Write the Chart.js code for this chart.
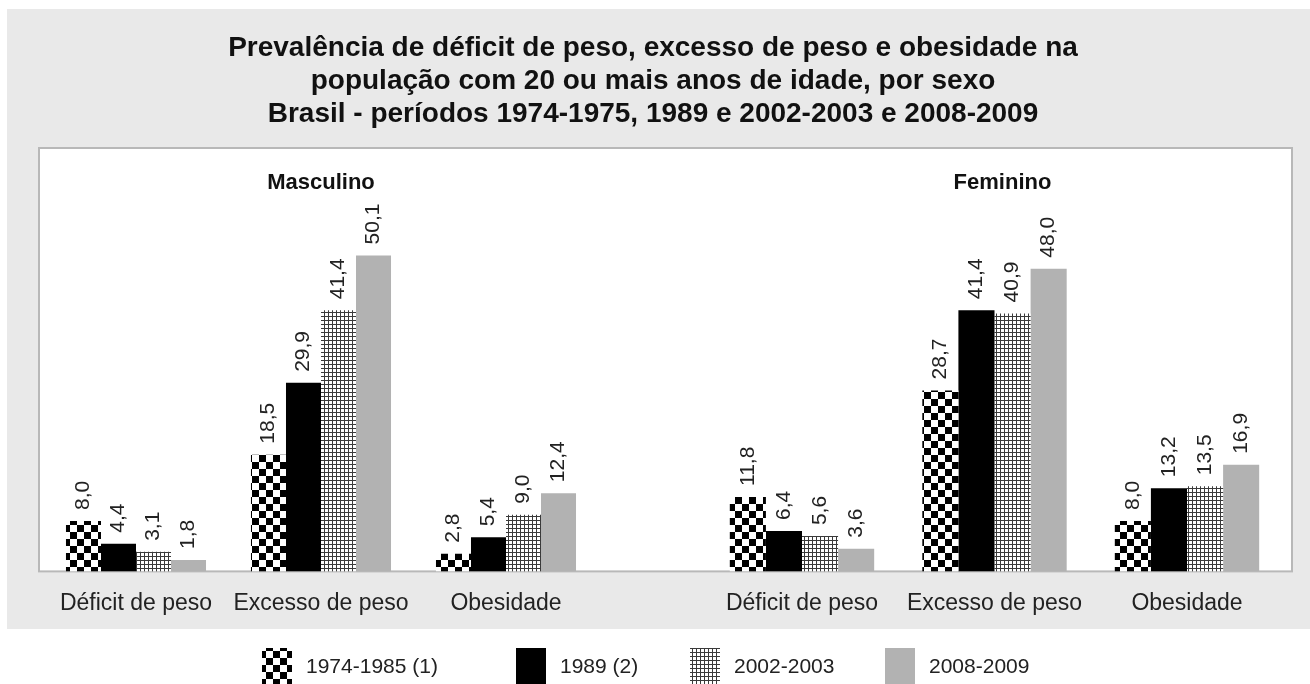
<!DOCTYPE html>
<html>
<head>
<meta charset="utf-8">
<script src="https://cdn.jsdelivr.net/npm/chart.js@4.4.1/dist/chart.umd.min.js"></script>
<style>
  html, body { margin: 0; padding: 0; background: #ffffff; }
  #wrap { position: relative; width: 1310px; height: 684px; }
  #wrap canvas { position: absolute; left: 0; top: 0; display: block; }
</style>
</head>
<body>
<div id="wrap">
  <canvas id="cM" width="1310" height="684"></canvas>
  <canvas id="cF" width="1310" height="684"></canvas>
</div>
<script>
// ---------- DATA ----------
const categories = ['Déficit de peso', 'Excesso de peso', 'Obesidade'];
const groupTitles = ['Masculino', 'Feminino'];
const seriesLabels = ['1974-1985 (1)', '1989 (2)', '2002-2003', '2008-2009'];
const titleLines = [
  'Prevalência de déficit de peso, excesso de peso e obesidade na',
  'população com 20 ou mais anos de idade, por sexo',
  'Brasil - períodos 1974-1975, 1989 e 2002-2003 e 2008-2009'
];
const masc1974 = [8.0, 18.5, 2.8];
const masc1989 = [4.4, 29.9, 5.4];
const masc2002 = [3.1, 41.4, 9.0];
const masc2008 = [1.8, 50.1, 12.4];
const fem1974 = [11.8, 28.7, 8.0];
const fem1989 = [6.4, 41.4, 13.2];
const fem2002 = [5.6, 40.9, 13.5];
const fem2008 = [3.6, 48.0, 16.9];

// ---------- STYLE ----------
const FONT = "'Liberation Sans', Arial, Helvetica, sans-serif";
Chart.defaults.font.family = FONT;
Chart.defaults.color = '#222';

function checkerPattern() {
  const s = 7, c = document.createElement('canvas');
  c.width = c.height = s * 2;
  const g = c.getContext('2d');
  g.fillStyle = '#fff'; g.fillRect(0, 0, s * 2, s * 2);
  g.fillStyle = '#000'; g.fillRect(0, 0, s, s); g.fillRect(s, s, s, s);
  return g.createPattern(c, 'repeat');
}
function gridPattern() {
  const s = 4, c = document.createElement('canvas');
  c.width = c.height = s;
  const g = c.getContext('2d');
  g.fillStyle = '#fff'; g.fillRect(0, 0, s, s);
  g.fillStyle = '#3a3a3a'; g.fillRect(0, 0, s, 1); g.fillRect(0, 0, 1, s);
  return g.createPattern(c, 'repeat');
}
const fills = [checkerPattern(), '#000000', gridPattern(), '#b2b2b2'];
const fmt = v => v.toFixed(1).replace('.', ',');

// ---------- PLUGINS ----------
const panels = {
  id: 'panels',
  beforeDraw(chart) {
    const { ctx, chartArea } = chart;
    ctx.save();
    ctx.fillStyle = '#ffffff';
    ctx.fillRect(0, 0, chart.width, chart.height);
    ctx.fillStyle = '#e9e9e9';
    ctx.fillRect(7, 9, chart.width - 7, 620);
    const top = 148, left = 39, right = 1292;
    ctx.fillStyle = '#ffffff';
    ctx.fillRect(left, top, right - left, chartArea.bottom - top);
    ctx.strokeStyle = '#b8b8b8';
    ctx.lineWidth = 2;
    ctx.strokeRect(left, top, right - left, chartArea.bottom - top);
    ctx.restore();
  }
};

const headerAndLegend = {
  id: 'headerAndLegend',
  afterDraw(chart) {
    const { ctx } = chart;
    ctx.save();
    ctx.font = 'bold 28px ' + FONT;
    ctx.fillStyle = '#111';
    ctx.textAlign = 'center';
    ctx.textBaseline = 'middle';
    titleLines.forEach((t, i) => ctx.fillText(t, chart.width / 2 - 2, 48 + i * 33));
    const legendX = [262, 516, 690, 885];
    ctx.font = '21px ' + FONT;
    ctx.textAlign = 'left';
    seriesLabels.forEach((lab, i) => {
      ctx.fillStyle = fills[i];
      ctx.fillRect(legendX[i], 648, 30, 40);
      ctx.fillStyle = '#222';
      ctx.fillText(lab, legendX[i] + 44, 667);
    });
    ctx.restore();
  }
};

const valueLabels = {
  id: 'valueLabels',
  afterDatasetsDraw(chart) {
    const { ctx } = chart;
    ctx.save();
    ctx.font = '21px ' + FONT;
    ctx.fillStyle = '#222';
    ctx.textAlign = 'left';
    ctx.textBaseline = 'middle';
    chart.data.datasets.forEach((ds, i) => {
      chart.getDatasetMeta(i).data.forEach((bar, j) => {
        const v = ds.data[j];
        if (v === null || v === undefined) return;
        ctx.save();
        ctx.translate(bar.x, bar.y - 11);
        ctx.rotate(-Math.PI / 2);
        ctx.fillText(fmt(v), 0, 0);
        ctx.restore();
      });
    });
    ctx.restore();
  }
};

const groupTitle = {
  id: 'groupTitle',
  afterDraw(chart, args, opts) {
    const { ctx } = chart;
    ctx.save();
    ctx.font = 'bold 22px ' + FONT;
    ctx.fillStyle = '#111';
    ctx.textAlign = 'center';
    ctx.textBaseline = 'middle';
    ctx.fillText(opts.text, chart.scales.x.getPixelForTick(1) + (opts.dx || 0), 183);
    ctx.restore();
  }
};

function makeChart(id, series, catPct, padLeft, padRight, title, dx, extraPlugins) {
  return new Chart(document.getElementById(id), {
    type: 'bar',
    data: {
      labels: categories,
      datasets: series.map((d, i) => ({
        label: seriesLabels[i], data: d,
        backgroundColor: fills[i], borderWidth: 0,
        categoryPercentage: catPct, barPercentage: 1.0
      }))
    },
    options: {
      responsive: false,
      animation: false,
      layout: { padding: { left: padLeft, right: padRight, top: 193, bottom: 65 } },
      plugins: {
        legend: { display: false },
        tooltip: { enabled: false },
        title: { display: false },
        groupTitle: { text: title, dx: dx }
      },
      scales: {
        x: {
          type: 'category',
          grid: { display: false, drawTicks: true, tickLength: 16 },
          border: { display: false },
          ticks: { font: { size: 23 }, color: '#222', padding: 2,
                   maxRotation: 0, minRotation: 0, autoSkip: false }
        },
        y: { type: 'linear', display: false, min: 0, max: 60 }
      }
    },
    plugins: extraPlugins.concat([valueLabels, groupTitle])
  });
}

// Masculino panel spans x 43.5 .. 598.5 ; Feminino panel spans x 705.75 .. 1283.25
makeChart('cM', [masc1974, masc1989, masc2002, masc2008], 0.757,
          43.5, 1310 - 598.5, groupTitles[0], 0, [panels, headerAndLegend]);
makeChart('cF', [fem1974, fem1989, fem2002, fem2008], 0.75,
          705.75, 26.75, groupTitles[1], 8, []);
</script>
</body>
</html>
